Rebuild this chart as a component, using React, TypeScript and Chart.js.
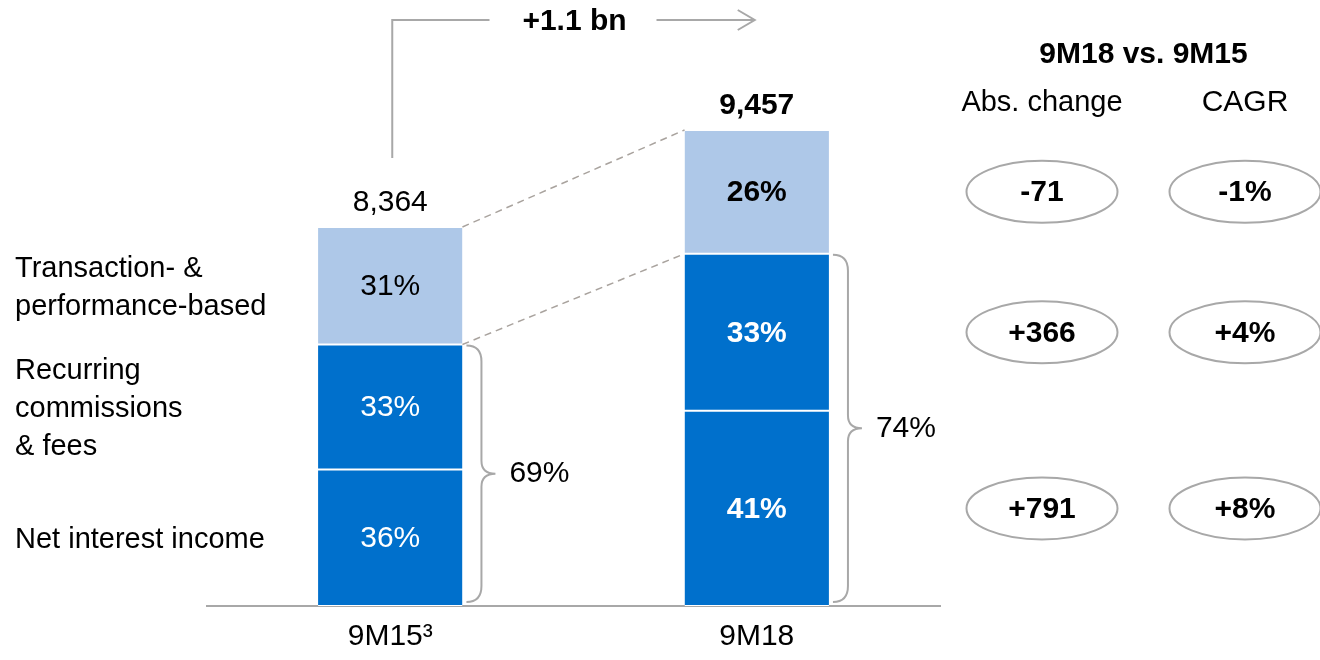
import React, { useEffect, useRef } from "react";
import { Chart, registerables } from "chart.js";

Chart.register(...registerables);

// ---------- data ----------
const categories = ["9M15³", "9M18"];
const totals = [8364, 9457];
const netInterestShare = [36, 41];
const recurringShare = [33, 33];
const transactionShare = [31, 26];
const absChange = ["-71", "+366", "+791"]; // rows: transaction, recurring, net interest
const cagrValues = ["-1%", "+4%", "+8%"];
const growthText = "+1.1 bn";
const comparisonTitle = "9M18 vs. 9M15";
const columnTitles = ["Abs. change", "CAGR"];
const segmentLabels = [
  ["Net interest income"],
  ["Recurring", "commissions", "& fees"],
  ["Transaction- &", "performance-based"],
];

// the source chart uses a truncated value axis
const AXIS_FLOOR = 4093;
const AXIS_CEIL = 10471;

const DARK = "#0070CC";
const LIGHT = "#AEC8E8";
const GREY = "#A8A8A8";
const DASH = "#A9A39E";
const FONT = "'Liberation Sans', Arial, Helvetica, sans-serif";

function segment(lower: number[], upper: number[]) {
  return categories.map((_, i) => {
    const span = totals[i] - AXIS_FLOOR;
    return [AXIS_FLOOR + (span * lower[i]) / 100, AXIS_FLOOR + (span * upper[i]) / 100];
  });
}

const zeros = categories.map(() => 0);
const cumRec = categories.map((_, i) => netInterestShare[i] + recurringShare[i]);
const cumAll = categories.map((_, i) => cumRec[i] + transactionShare[i]);

const annotations = {
  id: "annotations",
  afterDatasetsDraw(chart: any) {
    const ctx: CanvasRenderingContext2D = chart.ctx;
    const area = chart.chartArea;
    const metas = [0, 1, 2].map((i) => chart.getDatasetMeta(i).data as any[]);
    const bar = (d: number, j: number) => {
      const el = metas[d][j];
      const top = Math.min(el.y, el.base);
      const bottom = Math.max(el.y, el.base);
      return {
        x: el.x,
        left: el.x - el.width / 2,
        right: el.x + el.width / 2,
        top,
        bottom,
        mid: (top + bottom) / 2,
      };
    };
    const text = (s: string, x: number, y: number, size: number, bold: boolean, color: string, align: CanvasTextAlign = "center") => {
      ctx.font = `${bold ? "bold " : ""}${size}px ${FONT}`;
      ctx.fillStyle = color;
      ctx.textAlign = align;
      ctx.textBaseline = "middle";
      ctx.fillText(s, x, y);
    };
    ctx.save();

    // segment percentages
    const shares = [netInterestShare, recurringShare, transactionShare];
    for (let j = 0; j < categories.length; j++) {
      for (let d = 0; d < 3; d++) {
        const b = bar(d, j);
        text(`${shares[d][j]}%`, b.x, b.mid + 1, 30, j === 1, d < 2 ? "#ffffff" : "#000000");
      }
      const t = bar(2, j);
      text(totals[j].toLocaleString("en-US"), t.x, t.top - 24, 30, j === 1, "#000000");
    }

    // dashed connectors
    ctx.strokeStyle = DASH;
    ctx.lineWidth = 1.5;
    ctx.setLineDash([7, 5]);
    const a = bar(2, 0);
    const c = bar(2, 1);
    ctx.beginPath();
    ctx.moveTo(a.right, a.top);
    ctx.lineTo(c.left, c.top);
    ctx.moveTo(a.right, a.bottom);
    ctx.lineTo(c.left, c.bottom);
    ctx.stroke();
    ctx.setLineDash([]);

    // brackets
    ctx.strokeStyle = GREY;
    ctx.lineWidth = 2;
    for (let j = 0; j < categories.length; j++) {
      const top = bar(1, j).top + 1;
      const bottom = bar(0, j).bottom - 4;
      const right = bar(0, j).right;
      const ym = (top + bottom) / 2;
      const x0 = right + 4;
      const x1 = right + 19;
      const x2 = right + 33;
      const r = 16;
      const r2 = 13;
      ctx.beginPath();
      ctx.moveTo(x0, top);
      ctx.quadraticCurveTo(x1, top, x1, top + r);
      ctx.lineTo(x1, ym - r2);
      ctx.quadraticCurveTo(x1, ym, x2, ym);
      ctx.quadraticCurveTo(x1, ym, x1, ym + r2);
      ctx.lineTo(x1, bottom - r);
      ctx.quadraticCurveTo(x1, bottom, x0, bottom);
      ctx.stroke();
      text(`${cumRec[j]}%`, x2 + 44, ym, 30, false, "#000000");
    }

    // growth arrow
    const yA = 20;
    const cx = (a.x + c.x) / 2;
    ctx.beginPath();
    ctx.moveTo(a.x + 2, a.top - 69);
    ctx.lineTo(a.x + 2, yA);
    ctx.lineTo(cx - 84, yA);
    ctx.moveTo(cx + 83, yA);
    ctx.lineTo(c.x - 2, yA);
    ctx.moveTo(c.x - 19, yA - 10);
    ctx.lineTo(c.x - 2, yA);
    ctx.lineTo(c.x - 19, yA + 10);
    ctx.stroke();
    text(growthText, cx + 1, yA + 2, 30, true, "#000000");

    // comparison table
    const col1 = area.right + 102;
    const col2 = area.right + 305;
    text(comparisonTitle, (col1 + col2) / 2, 55, 30, true, "#000000");
    text(columnTitles[0], col1, 103, 29, false, "#000000");
    text(columnTitles[1], col2, 103, 30, false, "#000000");
    const rows = [2, 1, 0];
    rows.forEach((d, k) => {
      const y = bar(d, 1).mid;
      [col1, col2].forEach((colX, ci) => {
        ctx.strokeStyle = GREY;
        ctx.lineWidth = 2;
        ctx.beginPath();
        ctx.ellipse(colX, y, 75.5, 31, 0, 0, Math.PI * 2);
        ctx.stroke();
        text(ci === 0 ? absChange[k] : cagrValues[k], colX, y + 1, 30, true, "#000000");
      });
    });

    // segment names on the left
    for (let d = 0; d < 3; d++) {
      const lines = segmentLabels[d];
      const mid = bar(d, 0).mid + 2;
      lines.forEach((ln, li) => {
        text(ln, 15, mid + (li - (lines.length - 1) / 2) * 38, 29, false, "#000000", "left");
      });
    }
    ctx.restore();
  },
};

export default function App() {
  const ref = useRef<HTMLCanvasElement | null>(null);
  useEffect(() => {
    if (!ref.current) return;
    const common = {
      borderColor: "#ffffff",
      borderWidth: { top: 1, bottom: 1, left: 0, right: 0 },
      borderSkipped: false,
      categoryPercentage: 1,
      barPercentage: 0.394,
    };
    const chart = new Chart(ref.current, {
      type: "bar",
      data: {
        labels: categories,
        datasets: [
          { label: "Net interest income", data: segment(zeros, netInterestShare) as any, backgroundColor: DARK, ...common },
          { label: "Recurring commissions & fees", data: segment(netInterestShare, cumRec) as any, backgroundColor: DARK, ...common },
          { label: "Transaction- & performance-based", data: segment(cumRec, cumAll) as any, backgroundColor: LIGHT, ...common },
        ],
      },
      options: {
        animation: false,
        responsive: false,
        devicePixelRatio: 1,
        layout: { padding: { left: 207, right: 380, top: 40, bottom: 0 } },
        plugins: { legend: { display: false }, tooltip: { enabled: false }, title: { display: false } },
        scales: {
          x: {
            stacked: true,
            grid: { display: false, drawTicks: false },
            border: { display: true, color: GREY, width: 2 },
            ticks: { color: "#000000", padding: 13, font: { family: FONT, size: 30 } },
          },
          y: {
            stacked: false,
            display: false,
            min: AXIS_FLOOR,
            max: AXIS_CEIL,
          },
        },
      },
      plugins: [annotations],
    });
    return () => chart.destroy();
  }, []);
  return (
    <div style={{ position: "fixed", left: 0, top: 0, width: 1320, height: 660, overflow: "hidden", background: "#ffffff" }}>
      <canvas ref={ref} width={1320} height={668} style={{ display: "block", width: 1320, height: 668 }} />
    </div>
  );
}
